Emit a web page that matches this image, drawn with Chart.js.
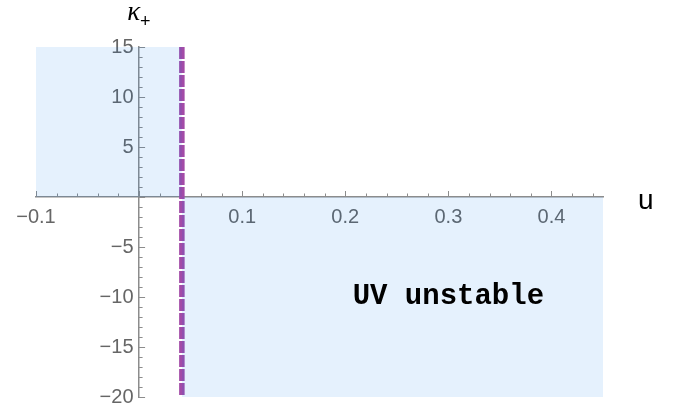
<!DOCTYPE html>
<html><head><meta charset="utf-8">
<script src="https://cdn.jsdelivr.net/npm/chart.js@4"></script>
<style>html,body{margin:0;padding:0;background:#fff}#wrap{width:683px;height:411px;position:relative}</style>
</head><body><div id="wrap"><canvas id="c"></canvas></div>
<script>
const uRange = [-0.1, 0.45];
const kRange = [-20, 15];
const uTickLabels = [-0.1, 0.1, 0.2, 0.3, 0.4];
const kTickLabels = [-20, -15, -10, -5, 5, 10, 15];
const uMinorStep = 0.02;
const kMinorStep = 1;
const stableU = [-0.1, 0.0415];
const stableK = [15, 15];
const unstableU = [0.0415, 0.45];
const unstableK = [-20, -20];
const boundaryU = [0.0415, 0.0415];
const boundaryK = [15, -20];
const regionLabel = 'UV unstable';
const regionLabelAt = [0.30, -10];
const xTitle = 'u';
const yTitle = 'κ';
const yTitleSub = '+';

const FILL = 'rgba(0,115,240,0.1)';
const AXIS = '#8c8c8c';
const LABEL = '#666666';
const toPts = (xs, ys) => xs.map((x, i) => ({x, y: ys[i]}));
const fmt = v => String(Math.round(v * 1000) / 1000).replace('-', '\u2212');
const noSpace = s => {
  if (s.isHorizontal()) { s.height = 0; } else { s.width = 0; }
  s.paddingTop = 0; s.paddingBottom = 0; s.paddingLeft = 0; s.paddingRight = 0;
};

const axisDecor = {
  id: 'axisDecor',
  beforeDatasetsDraw(chart) {
    const {ctx, scales: {x, y}} = chart;
    const x0 = x.getPixelForValue(0), y0 = y.getPixelForValue(0);
    ctx.save();
    ctx.strokeStyle = AXIS; ctx.lineWidth = 1;
    ctx.beginPath();
    for (let i = 0; ; i++) {
      const v = uRange[0] + i * uMinorStep;
      if (v > uRange[1] + 1e-9) break;
      const major = Math.abs(v * 10 - Math.round(v * 10)) < 1e-6;
      const px = Math.round(x.getPixelForValue(v)) + 0.5;
      ctx.moveTo(px, y0); ctx.lineTo(px, y0 - (major ? 6 : 3.5));
    }
    for (let i = 0; ; i++) {
      const v = kRange[0] + i * kMinorStep;
      if (v > kRange[1] + 1e-9) break;
      const major = v % 5 === 0;
      const py = Math.round(y.getPixelForValue(v)) + 0.5;
      ctx.moveTo(x0, py); ctx.lineTo(x0 + (major ? 6 : 3.5), py);
    }
    ctx.stroke();
    ctx.restore();
  },
  afterDraw(chart) {
    const {ctx, chartArea, scales: {x, y}} = chart;
    const x0 = x.getPixelForValue(0), y0 = y.getPixelForValue(0);
    ctx.save();
    ctx.fillStyle = '#000';
    ctx.font = 'bold 29px "Liberation Mono"';
    ctx.textAlign = 'center'; ctx.textBaseline = 'middle';
    ctx.fillText(regionLabel, x.getPixelForValue(regionLabelAt[0]), y.getPixelForValue(regionLabelAt[1]));
    ctx.textBaseline = 'alphabetic';
    ctx.font = 'italic 27px "Liberation Serif"';
    ctx.textAlign = 'right';
    ctx.fillText(yTitle, x0 + 1, chartArea.top - 27);
    ctx.font = '18px "Liberation Sans"';
    ctx.textAlign = 'left';
    ctx.fillText(yTitleSub, x0 + 1, chartArea.top - 20);
    ctx.font = '28px "Liberation Sans"';
    ctx.fillText(xTitle, chartArea.right + 35, y0 + 12);
    ctx.restore();
  }
};

new Chart(document.getElementById('c'), {
  type: 'line',
  data: {
    datasets: [
      {data: toPts(stableU, stableK), fill: 'origin', backgroundColor: FILL, borderWidth: 0, pointRadius: 0},
      {data: toPts(unstableU, unstableK), fill: 'origin', backgroundColor: FILL, borderWidth: 0, pointRadius: 0},
      {data: toPts(boundaryU, boundaryK), fill: false, borderColor: '#a24ba7', borderWidth: 5.5, borderDash: [12, 2], borderCapStyle: 'butt', pointRadius: 0}
    ]
  },
  options: {
    responsive: true, maintainAspectRatio: false, animation: false,
    layout: {padding: {left: 36, right: 80, top: 47, bottom: 14}},
    plugins: {legend: {display: false}, tooltip: {enabled: false}},
    scales: {
      x: {
        type: 'linear', min: uRange[0], max: uRange[1], position: {y: 0},
        afterBuildTicks: s => { s.ticks = uTickLabels.map(v => ({value: v})); },
        afterFit: noSpace,
        ticks: {callback: fmt, color: LABEL, font: {family: 'Liberation Sans', size: 20}, padding: 8, maxRotation: 0, autoSkip: false},
        grid: {drawOnChartArea: false, drawTicks: false},
        border: {color: AXIS, width: 1.5}
      },
      y: {
        type: 'linear', min: kRange[0], max: kRange[1], position: {x: 0},
        afterBuildTicks: s => { s.ticks = kTickLabels.map(v => ({value: v})); },
        afterFit: noSpace,
        ticks: {callback: v => fmt(v) + ' ', color: LABEL, font: {family: 'Liberation Sans', size: 20}, padding: 6, autoSkip: false},
        grid: {drawOnChartArea: false, drawTicks: false},
        border: {color: AXIS, width: 1.5}
      }
    }
  },
  plugins: [axisDecor]
});
</script></body></html>
